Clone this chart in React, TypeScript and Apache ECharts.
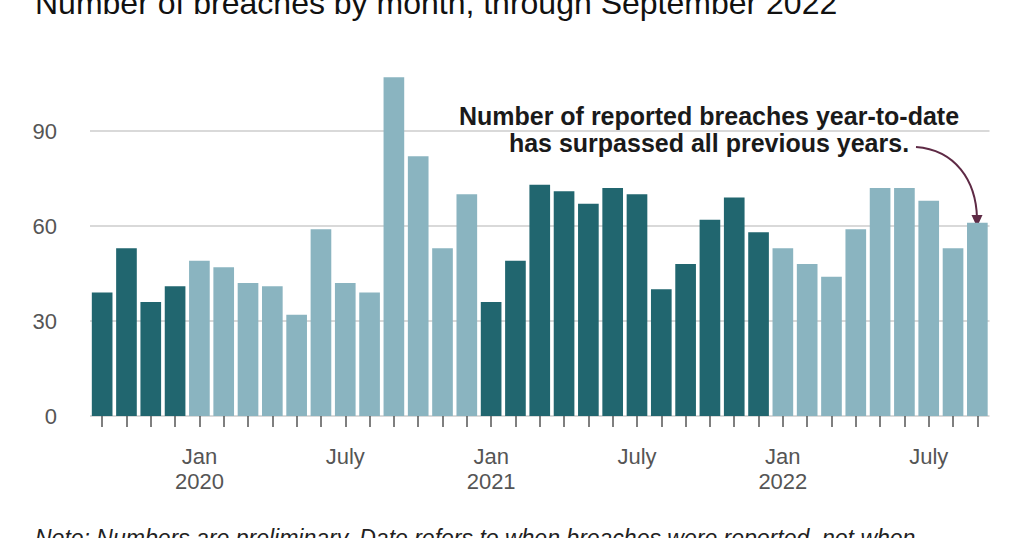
import React, { useEffect, useRef } from "react";
import * as echarts from "echarts";

const months: string[] = [
  "Sep 2019", "Oct 2019", "Nov 2019", "Dec 2019",
  "Jan 2020", "Feb 2020", "Mar 2020", "Apr 2020", "May 2020", "Jun 2020",
  "Jul 2020", "Aug 2020", "Sep 2020", "Oct 2020", "Nov 2020", "Dec 2020",
  "Jan 2021", "Feb 2021", "Mar 2021", "Apr 2021", "May 2021", "Jun 2021",
  "Jul 2021", "Aug 2021", "Sep 2021", "Oct 2021", "Nov 2021", "Dec 2021",
  "Jan 2022", "Feb 2022", "Mar 2022", "Apr 2022", "May 2022", "Jun 2022",
  "Jul 2022", "Aug 2022", "Sep 2022",
];

const breaches: number[] = [
  39, 53, 36, 41,
  49, 47, 42, 41, 32, 59, 42, 39, 107, 82, 53, 70,
  36, 49, 73, 71, 67, 72, 70, 40, 48, 62, 69, 58,
  53, 48, 44, 59, 72, 72, 68, 53, 61,
];

const tickLabels: Record<string, string> = {
  "Jan 2020": "Jan\n2020",
  "Jul 2020": "July",
  "Jan 2021": "Jan\n2021",
  "Jul 2021": "July",
  "Jan 2022": "Jan\n2022",
  "Jul 2022": "July",
};

const titleText = "Number of breaches by month, through September 2022";
const annotationText = "Number of reported breaches year-to-date\nhas surpassed all previous years.";
const noteText = "Note: Numbers are preliminary. Date refers to when breaches were reported, not when";

const DARK = "#21666f";
const LIGHT = "#8ab4c0";
const FONT = "'Liberation Sans', Arial, Helvetica, sans-serif";

function barColor(label: string): string {
  const year = label.split(" ")[1];
  return year === "2019" || year === "2021" ? DARK : LIGHT;
}

export default function App() {
  const ref = useRef<HTMLDivElement>(null);
  useEffect(() => {
    if (!ref.current) return;
    const chart = echarts.init(ref.current, null, { renderer: "svg" });
    chart.setOption({
      animation: false,
      backgroundColor: "#ffffff",
      grid: { left: 90, right: 34.5, top: 36, bottom: 122 },
      xAxis: {
        type: "category",
        data: months,
        offset: 5,
        axisLine: { show: false },
        axisTick: {
          show: true,
          interval: 0,
          alignWithLabel: true,
          length: 11,
          lineStyle: { color: "#555", width: 1.5 },
        },
        axisLabel: {
          interval: 0,
          margin: 23,
          color: "#555",
          fontFamily: FONT,
          fontSize: 22,
          lineHeight: 25,
          formatter: (v: string) => tickLabels[v] || "",
        },
      },
      yAxis: {
        type: "value",
        min: 0,
        max: 120,
        interval: 30,
        axisLine: { show: false },
        axisTick: { show: false },
        axisLabel: {
          margin: 33,
          color: "#555",
          fontFamily: FONT,
          fontSize: 22,
          showMaxLabel: false,
        },
        splitLine: {
          show: true,
          showMinLine: true,
          showMaxLine: false,
          lineStyle: { color: "#cccccc", width: 1.5 },
        },
      },
      series: [
        {
          type: "bar",
          data: breaches.map((v, i) => ({ value: v, itemStyle: { color: barColor(months[i]) } })),
          barCategoryGap: "15%",
        },
      ],
      graphic: [
        {
          type: "text",
          left: 35,
          top: -13.5,
          style: {
            text: titleText,
            fontFamily: FONT,
            fontSize: 32,
            fill: "#111",
          },
        },
        {
          type: "text",
          x: 709,
          y: 102,
          style: {
            text: annotationText,
            fontFamily: FONT,
            fontSize: 25,
            fontWeight: "bold",
            lineHeight: 27,
            fill: "#1a1a1a",
            align: "center",
            verticalAlign: "top",
          },
        },
        {
          type: "bezierCurve",
          shape: { x1: 916, y1: 147, cpx1: 955, cpy1: 150, cpx2: 976, cpy2: 180, x2: 977, y2: 218 },
          style: { stroke: "#5e2a45", lineWidth: 2, fill: null },
        },
        {
          type: "polygon",
          shape: { points: [[971.5, 215], [982.5, 215], [977, 227]] },
          style: { fill: "#5e2a45" },
        },
        {
          type: "text",
          left: 35,
          top: 526,
          style: {
            text: noteText,
            fontFamily: FONT,
            fontSize: 23,
            fontStyle: "italic",
            fill: "#222",
          },
        },
      ],
    });
    return () => chart.dispose();
  }, []);
  return <div ref={ref} style={{ width: 1024, height: 538, position: "fixed", left: 0, top: 0 }} />;
}
